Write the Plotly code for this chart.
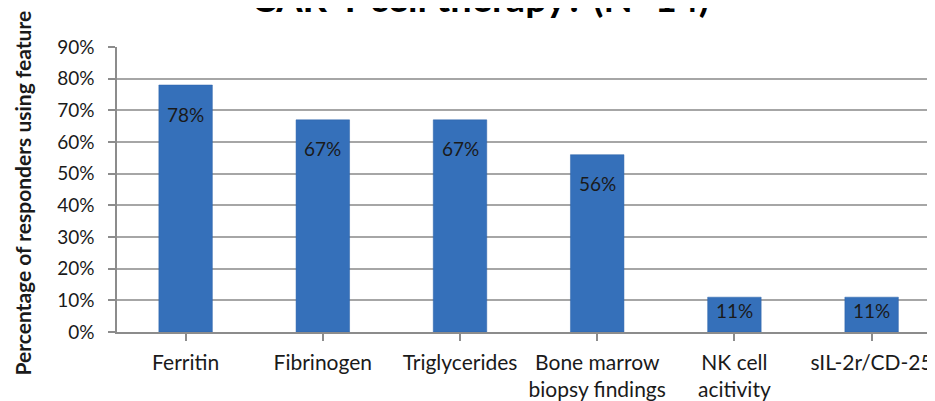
import plotly.graph_objects as go

categories = ["Ferritin", "Fibrinogen", "Triglycerides", "Bone marrow<br>biopsy findings", "NK cell<br>acitivity", "sIL-2r/CD-25"]
values = [0.78, 0.67, 0.67, 0.56, 0.11, 0.11]
labels = ["78%", "67%", "67%", "56%", "11%", "11%"]
title_text = "CAR-T cell therapy? (N=14)"
y_title = "Percentage of responders using feature"

# page body has an 8px margin; figure sized so the page does not overflow
W, H = 927, 393
ml, mr, mt, mb = 109, 0, 39, 67
ymax = 0.9
plot_h = H - mt - mb
plot_w = W - ml - mr

FONT = "Lato"
TXT = "#1a1a1a"
GRID = "#a6a6a6"
AX = "#8c8c8c"

fig = go.Figure()
fig.add_trace(go.Bar(
    x=list(range(len(categories))), y=values, width=0.39,
    marker=dict(color="#3570ba", line=dict(color="#2d62a8", width=0.5)),
    hoverinfo="skip",
))

anns = []
for i, (v, lab) in enumerate(zip(values, labels)):
    bar_px = v / ymax * plot_h
    shift = -min(29, bar_px / 2 - 4)
    anns.append(dict(x=i, y=v, xref="x", yref="y", text=lab, showarrow=False,
                     yshift=shift, yanchor="middle",
                     font=dict(family=FONT, size=19, color=TXT)))

anns.append(dict(x=(14 - ml) / plot_w, y=0.5, xref="paper", yref="paper",
                 text="<b>" + y_title + "</b>", textangle=-90, showarrow=False,
                 xanchor="center", yanchor="middle", yshift=-4,
                 font=dict(family=FONT, size=21, color=TXT)))
anns.append(dict(x=(472 - ml) / plot_w, y=1, xref="paper", yref="paper",
                 text="<b>" + title_text + "</b>", showarrow=False,
                 xanchor="center", yanchor="bottom", yshift=25,
                 font=dict(family=FONT, size=38, color="#000000")))

fig.update_layout(
    width=W, height=H, autosize=False,
    margin=dict(l=ml, r=mr, t=mt, b=mb),
    paper_bgcolor="white", plot_bgcolor="white",
    showlegend=False,
    annotations=anns,
    xaxis=dict(
        range=[-0.5, 5.462],
        tickmode="array", tickvals=list(range(len(categories))), ticktext=categories,
        ticks="outside", tickson="boundaries", ticklen=7, tickcolor=AX, tickwidth=1.5,
        showline=True, linecolor=AX, linewidth=1.5,
        showgrid=False, zeroline=False,
        tickfont=dict(family=FONT, size=21, color=TXT),
        ticklabelstandoff=4,
    ),
    yaxis=dict(
        range=[0, ymax], dtick=0.1, tickformat=".0%",
        ticks="outside", ticklen=7, tickcolor=AX, tickwidth=1.5,
        showline=True, linecolor=AX, linewidth=1.5,
        showgrid=True, gridcolor=GRID, gridwidth=1.5, zeroline=False,
        tickfont=dict(family=FONT, size=19, color=TXT),
        ticklabelstandoff=10,
    ),
)

fig.write_html("out.html")
